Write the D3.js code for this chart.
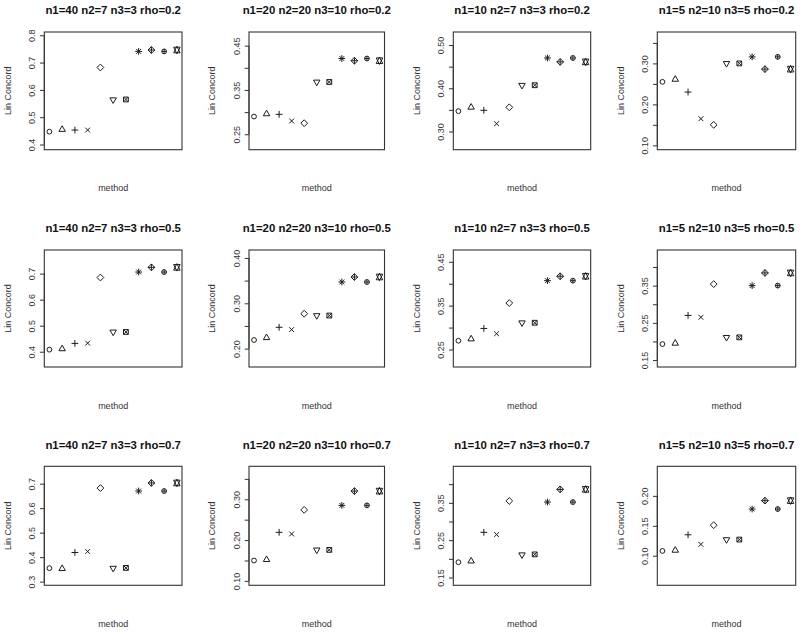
<!DOCTYPE html>
<html><head><meta charset="utf-8">
<script src="https://cdn.jsdelivr.net/npm/d3@7"></script>
<style>body{margin:0;background:#fff} svg{display:block}</style>
</head><body>
<svg id="chart" width="800" height="633"></svg>
<script>
// ---- data ----
const methods = [1, 2, 3, 4, 5, 6, 7, 8, 9, 10, 11];          // method index on x
const pchCodes = [1, 2, 3, 4, 5, 6, 7, 8, 9, 10, 11];         // R plotting symbol per method
const panelTitles = [
  "n1=40 n2=7 n3=3 rho=0.2", "n1=20 n2=20 n3=10 rho=0.2", "n1=10 n2=7 n3=3 rho=0.2", "n1=5 n2=10 n3=5 rho=0.2",
  "n1=40 n2=7 n3=3 rho=0.5", "n1=20 n2=20 n3=10 rho=0.5", "n1=10 n2=7 n3=3 rho=0.5", "n1=5 n2=10 n3=5 rho=0.5",
  "n1=40 n2=7 n3=3 rho=0.7", "n1=20 n2=20 n3=10 rho=0.7", "n1=10 n2=7 n3=3 rho=0.7", "n1=5 n2=10 n3=5 rho=0.7"
];
const lcc_40_7_3_r02  = [0.447, 0.455, 0.453, 0.453, 0.682, 0.564, 0.565, 0.741, 0.746, 0.741, 0.746];
const lcc_20_20_10_r02 = [0.290, 0.296, 0.295, 0.280, 0.275, 0.368, 0.368, 0.421, 0.416, 0.421, 0.416];
const lcc_10_7_3_r02  = [0.347, 0.356, 0.349, 0.318, 0.356, 0.407, 0.407, 0.470, 0.461, 0.470, 0.461];
const lcc_5_10_5_r02  = [0.255, 0.261, 0.230, 0.165, 0.150, 0.300, 0.300, 0.316, 0.286, 0.316, 0.286];
const lcc_40_7_3_r05  = [0.408, 0.411, 0.432, 0.433, 0.685, 0.476, 0.476, 0.706, 0.724, 0.706, 0.724];
const lcc_20_20_10_r05 = [0.219, 0.224, 0.247, 0.242, 0.277, 0.273, 0.273, 0.347, 0.358, 0.347, 0.358];
const lcc_10_7_3_r05  = [0.270, 0.274, 0.298, 0.286, 0.356, 0.311, 0.311, 0.407, 0.417, 0.407, 0.417];
const lcc_5_10_5_r05  = [0.193, 0.195, 0.270, 0.265, 0.354, 0.211, 0.211, 0.350, 0.384, 0.350, 0.384];
const lcc_40_7_3_r07  = [0.355, 0.353, 0.419, 0.423, 0.682, 0.355, 0.356, 0.670, 0.703, 0.670, 0.703];
const lcc_20_20_10_r07 = [0.150, 0.152, 0.219, 0.215, 0.274, 0.176, 0.176, 0.285, 0.320, 0.285, 0.320];
const lcc_10_7_3_r07  = [0.191, 0.194, 0.271, 0.265, 0.355, 0.211, 0.212, 0.352, 0.386, 0.352, 0.386];
const lcc_5_10_5_r07  = [0.108, 0.109, 0.135, 0.119, 0.151, 0.127, 0.127, 0.178, 0.192, 0.178, 0.192];
const panelValues = [
  lcc_40_7_3_r02, lcc_20_20_10_r02, lcc_10_7_3_r02, lcc_5_10_5_r02,
  lcc_40_7_3_r05, lcc_20_20_10_r05, lcc_10_7_3_r05, lcc_5_10_5_r05,
  lcc_40_7_3_r07, lcc_20_20_10_r07, lcc_10_7_3_r07, lcc_5_10_5_r07
];
const xLabel = "method";
const yLabel = "Lin Concord";

// ---- layout ----
const colLeft = [44.3, 249, 453.3, 657.3];
const colWidth = [137.7, 135.5, 137.4, 138.4];
const rowTop = [32, 250, 466.3];
const rowBottom = [149.7, 367, 585.3];
const FONT = "'Liberation Sans', Arial, Helvetica, sans-serif";
const INK = "#1c1c1c";

// R pch symbol paths
const RAD = 2.4;
function pchPath(pch, r) {
  const p = d3.path();
  const circle = (rr) => { p.moveTo(rr, 0); p.arc(0, 0, rr, 0, 2 * Math.PI); p.closePath(); };
  const plus = (a) => { p.moveTo(-a, 0); p.lineTo(a, 0); p.moveTo(0, -a); p.lineTo(0, a); };
  const cross = (a) => { p.moveTo(-a, -a); p.lineTo(a, a); p.moveTo(-a, a); p.lineTo(a, -a); };
  const diamond = (a) => { p.moveTo(-a, 0); p.lineTo(0, -a); p.lineTo(a, 0); p.lineTo(0, a); p.closePath(); };
  const tri = (dir) => {
    const R = 1.5551 * r, xc = 0.866 * R, yc = 0.5 * R;
    p.moveTo(0, -R * dir); p.lineTo(xc, yc * dir); p.lineTo(-xc, yc * dir); p.closePath();
  };
  switch (pch) {
    case 1: circle(r); break;
    case 2: tri(1); break;
    case 3: plus(Math.SQRT2 * r); break;
    case 4: cross(r); break;
    case 5: diamond(Math.SQRT2 * r); break;
    case 6: tri(-1); break;
    case 7: p.rect(-r, -r, 2 * r, 2 * r); cross(r); break;
    case 8: cross(r); plus(Math.SQRT2 * r); break;
    case 9: diamond(Math.SQRT2 * r); plus(Math.SQRT2 * r); break;
    case 10: circle(r); plus(r); break;
    case 11: {
      const R = 1.5551 * r, xc = 0.866 * R, yc = 0.75 * R;
      p.moveTo(0, -R); p.lineTo(xc, yc); p.lineTo(-xc, yc); p.closePath();
      p.moveTo(0, R); p.lineTo(xc, -yc); p.lineTo(-xc, -yc); p.closePath();
      break;
    }
  }
  return p.toString();
}

const svg = d3.select("#chart");
svg.append("rect").attr("width", 800).attr("height", 633).attr("fill", "#fff");

panelValues.forEach((vals, i) => {
  const row = Math.floor(i / 4), col = i % 4;
  const x0 = colLeft[col], x1 = colLeft[col] + colWidth[col];
  const y0 = rowTop[row], y1 = rowBottom[row];
  const g = svg.append("g");

  // R-style limits: ylim = range +/- 0.05, then 4% expansion
  const lo = d3.min(vals) - 0.05, hi = d3.max(vals) + 0.05;
  const pad = 0.04 * (hi - lo);
  const y = d3.scaleLinear().domain([lo - pad, hi + pad]).range([y1, y0]);
  const xpad = 0.04 * (methods.length - 1);
  const x = d3.scaleLinear().domain([1 - xpad, methods.length + xpad]).range([x0, x1]);

  // y axis
  const [dlo, dhi] = y.domain();
  const ticks = y.ticks(5).filter(t => t >= dlo && t <= dhi);
  const step = ticks.length > 1 ? ticks[1] - ticks[0] : 0.1;
  const dec = step < 0.1 - 1e-9 ? 2 : (ticks.some(t => Math.abs(t * 10 - Math.round(t * 10)) > 1e-9) ? 2 : 1);
  const fmt = d3.format("." + dec + "f");
  const axis = d3.axisLeft(y).tickValues(ticks).tickSize(4.3).tickPadding(3).tickFormat(fmt);
  const ag = g.append("g").attr("transform", `translate(${x0},0)`).call(axis);
  ag.select(".domain").attr("d", `M0,${y(ticks[0])}V${y(ticks[ticks.length - 1])}`)
    .attr("stroke", "#333").attr("stroke-width", 1);
  ag.selectAll(".tick line").attr("stroke", "#333").attr("stroke-width", 1);
  const labs = ag.selectAll(".tick text")
    .attr("font-family", FONT).attr("font-size", 9).attr("fill", "#333")
    .attr("transform", "rotate(-90)")
    .attr("x", 0).attr("y", -12.6).attr("dy", "0.35em")
    .attr("text-anchor", "middle");
  // R-style overlap skipping (ticks drawn bottom to top)
  let lastPos = null, lastHalf = 0;
  const gap = 7;
  labs.each(function (d) {
    const w = this.getComputedTextLength();
    const pos = y(d);
    if (lastPos === null || Math.abs(lastPos - pos) >= lastHalf + w / 2 + gap) {
      lastPos = pos; lastHalf = w / 2;
    } else {
      d3.select(this).remove();
    }
  });

  // box
  g.append("rect").attr("x", x0).attr("y", y0).attr("width", x1 - x0).attr("height", y1 - y0)
    .attr("fill", "none").attr("stroke", "#333").attr("stroke-width", 1.1);

  // points
  g.selectAll("path.pt").data(vals).enter().append("path")
    .attr("class", "pt")
    .attr("transform", (d, j) => `translate(${x(methods[j])},${y(d)})`)
    .attr("d", (d, j) => pchPath(pchCodes[j], RAD))
    .attr("fill", "none").attr("stroke", INK).attr("stroke-width", 1);

  // title
  g.append("text").attr("x", (x0 + x1) / 2).attr("y", y0 - 21.5).attr("dy", "0.35em")
    .attr("text-anchor", "middle").attr("font-family", FONT).attr("font-weight", "bold")
    .attr("font-size", 11.4).attr("fill", "#111").text(panelTitles[i]);
  // x label
  g.append("text").attr("x", (x0 + x1) / 2).attr("y", y1 + 38.5).attr("dy", "0.35em")
    .attr("text-anchor", "middle").attr("font-family", FONT).attr("font-size", 9)
    .attr("fill", "#333").text(xLabel);
  // y label
  g.append("text").attr("transform", `translate(${x0 - 36.8},${(y0 + y1) / 2}) rotate(-90)`)
    .attr("dy", "0.35em").attr("text-anchor", "middle").attr("font-family", FONT)
    .attr("font-size", 9).attr("fill", "#333").text(yLabel);
});
</script>
</body></html>
